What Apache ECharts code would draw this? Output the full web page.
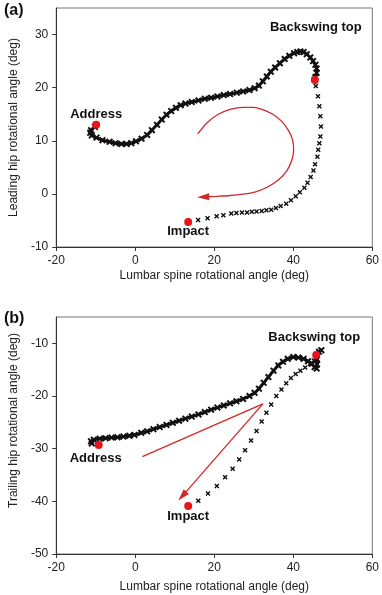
<!DOCTYPE html>
<html>
<head>
<meta charset="utf-8">
<script src="https://cdn.jsdelivr.net/npm/echarts@6/dist/echarts.min.js"></script>
<style>
  html, body { margin: 0; padding: 0; background: #fff; }
  #chart { width: 382px; height: 595px; }
</style>
</head>
<body>
<div id="chart"></div>
<script>
// x ticks shared by both panels
const xTicks = [-20, 0, 20, 40, 60];
const yTicksA = [-10, 0, 10, 20, 30];
const yTicksB = [-50, -40, -30, -20, -10];

// (a) lumbar spine vs leading hip
const backswingA = [
  [-10.2, 12.6], [-11.2, 12.0], [-11.4, 11.5], [-11.0, 11.0], [-9.8, 10.6], [-8.3, 10.1],
  [-6.5, 9.8], [-5.0, 9.55], [-3.5, 9.4], [-2.2, 9.4], [-1.0, 9.55], [0.2, 9.9],
  [1.6, 10.4], [3.0, 11.1], [4.2, 12.0], [5.5, 13.0], [6.7, 14.0], [7.9, 14.9],
  [9.1, 15.6], [10.3, 16.2], [11.5, 16.7], [12.7, 17.0], [14.3, 17.3], [16.0, 17.6],
  [17.6, 17.9], [19.2, 18.1], [20.8, 18.35], [22.4, 18.6], [24.0, 18.8], [25.7, 19.05],
  [27.3, 19.3], [28.9, 19.55], [30.2, 19.9], [31.3, 20.4], [32.3, 21.2], [33.3, 22.1],
  [34.3, 23.0], [35.4, 23.8], [36.6, 24.6], [37.8, 25.4], [39.0, 26.0], [40.2, 26.5],
  [41.0, 26.7], [41.8, 26.8], [42.6, 26.7], [43.4, 26.3], [44.3, 25.7], [45.0, 25.0],
  [45.6, 24.3], [45.9, 23.6], [45.9, 22.8], [45.6, 22.0], [45.4, 21.5]
];
const downswingA = [
  [45.7, 20.3], [46.25, 18.4], [46.6, 16.5], [46.85, 14.6], [47.0, 12.7], [46.85, 10.8],
  [46.6, 9.55], [46.3, 8.3], [46.1, 7.0], [45.5, 5.6], [45.1, 4.4], [44.4, 3.2],
  [43.6, 2.1], [42.8, 1.14], [41.65, 0.32], [40.6, -0.44], [39.4, -1.2], [38.2, -1.84],
  [36.8, -2.28], [35.6, -2.66], [34.4, -2.97], [33.2, -3.1], [32.0, -3.2], [30.7, -3.3],
  [29.5, -3.35], [28.3, -3.5], [27.0, -3.5], [25.6, -3.6], [24.3, -3.7], [22.3, -4.0],
  [20.6, -4.2], [18.3, -4.6], [15.9, -4.9]
];
const eventNames = ['Address', 'Backswing top', 'Impact'];
const eventsA = [[-9.9, 13.0], [45.45, 21.45], [13.4, -5.3]];
const arrowA = [
  [15.8, 11.3], [18.2, 13.4], [20.8, 14.9], [24.0, 15.9], [27.3, 16.3], [30.0, 16.3],
  [32.1, 15.9], [34.8, 15.0], [37.0, 13.7], [38.8, 11.9], [39.8, 10.2], [40.1, 8.3],
  [39.6, 6.3], [38.3, 4.3], [36.2, 2.6], [33.5, 1.3], [30.5, 0.4], [27.3, -0.05],
  [24.0, -0.3], [20.5, -0.45], [17.2, -0.57]
];

// (b) lumbar spine vs trailing hip
const backswingB = [
  [-11.0, -29.0], [-11.2, -28.6], [-10.5, -28.3], [-9.0, -28.1], [-7.5, -28.0], [-6.0, -27.9],
  [-4.5, -27.85], [-3.0, -27.7], [-1.5, -27.55], [-0.2, -27.4], [1.5, -27.0], [3.0, -26.7],
  [4.6, -26.3], [6.2, -25.9], [7.9, -25.5], [9.5, -25.1], [11.1, -24.7], [12.7, -24.3],
  [14.3, -23.9], [16.0, -23.5], [17.6, -23.05], [19.2, -22.6], [20.8, -22.2], [22.4, -21.8],
  [24.0, -21.4], [25.6, -21.0], [27.3, -20.55], [28.9, -20.0], [30.2, -19.4], [31.3, -18.6],
  [32.5, -17.5], [33.7, -16.4], [35.0, -15.2], [36.2, -14.2], [37.4, -13.5], [38.6, -12.95],
  [40.0, -12.6], [41.3, -12.7], [42.6, -12.95], [43.7, -13.4], [44.7, -13.9], [45.4, -14.5],
  [45.9, -14.8], [46.0, -14.0], [46.0, -13.0], [45.9, -12.2], [46.5, -11.6], [47.1, -11.3]
];
const downswingB = [
  [46.0, -12.6], [45.2, -13.2], [44.2, -13.9], [43.0, -14.6], [41.8, -15.2], [40.6, -15.8],
  [39.4, -16.6], [38.2, -17.6], [37.0, -18.75], [35.7, -20.0], [34.4, -21.6], [33.2, -23.2],
  [32.0, -24.85], [30.7, -26.65], [29.3, -28.45], [27.8, -30.3], [26.3, -32.05], [24.65, -33.8],
  [22.75, -35.45], [20.65, -37.1], [18.4, -38.5], [15.95, -39.9]
];
const eventsB = [[-9.25, -29.3], [45.8, -12.2], [13.4, -40.9]];
const arrowB1 = [[32.3, -21.5], [1.8, -31.5]];
const arrowB2 = [[32.3, -21.5], [11.9, -39.0]];

const crossSymbol = 'path://M0,2L2,0L5,3L8,0L10,2L7,5L10,8L8,10L5,7L2,10L0,8L3,5Z';
const redLine = '#d02828';
const redDot = '#e8141a';
const font = 'Liberation Sans, Arial, sans-serif';

function xAxisFor(gridIndex, gap) {
  return {
    type: 'value', gridIndex: gridIndex, min: -20, max: 60, interval: 20,
    name: 'Lumbar spine rotational angle (deg)', nameLocation: 'middle', nameGap: gap,
    nameTextStyle: { fontFamily: font, fontSize: 12, color: '#222' },
    axisLine: { onZero: false, lineStyle: { color: '#333', width: 1 } },
    axisTick: { show: true, inside: false, length: 4, customValues: xTicks, lineStyle: { color: '#333' } },
    axisLabel: { customValues: xTicks, margin: 8, fontFamily: font, fontSize: 12, color: '#222' },
    splitLine: { show: false }
  };
}
function yAxisFor(gridIndex, min, max, ticks, name, pad) {
  return {
    type: 'value', gridIndex: gridIndex, min: min, max: max, interval: 10,
    name: name, nameLocation: 'middle', nameGap: 29,
    nameTextStyle: { fontFamily: font, fontSize: 12, color: '#222', padding: pad },
    axisLine: { onZero: false, lineStyle: { color: '#333', width: 1 } },
    axisTick: { show: true, inside: false, length: 4, customValues: ticks, lineStyle: { color: '#333' } },
    axisLabel: { customValues: ticks, margin: 8, fontFamily: font, fontSize: 12, color: '#222' },
    splitLine: { show: false }
  };
}

function eventData(points, offsets) {
  return points.map((p, i) => ({
    value: p,
    name: eventNames[i],
    label: { offset: offsets[i] }
  }));
}

function panelSeries(idx, back, down, events, offsets) {
  return [
    {
      type: 'line', xAxisIndex: idx, yAxisIndex: idx, data: back, smooth: 0.4,
      showSymbol: true, symbol: crossSymbol, symbolSize: 7,
      itemStyle: { color: '#111', opacity: 1 },
      lineStyle: { color: '#111', width: 3 }, z: 3
    },
    {
      type: 'scatter', xAxisIndex: idx, yAxisIndex: idx, data: down,
      symbol: crossSymbol, symbolSize: 5, itemStyle: { color: '#111', opacity: 1 }, z: 3
    },
    {
      type: 'scatter', xAxisIndex: idx, yAxisIndex: idx, data: eventData(events, offsets),
      symbol: 'circle', symbolSize: 8, itemStyle: { color: redDot, opacity: 1 }, z: 5,
      label: {
        show: true, position: 'inside', formatter: '{b}',
        fontFamily: font, fontSize: 13, fontWeight: 'bold', color: '#111', opacity: 1,
        textBorderWidth: 0, textBorderColor: 'transparent'
      }
    }
  ];
}

const arrowA_data = arrowA.map((p, i) => i === arrowA.length - 1
  ? { value: p, symbol: 'triangle', symbolSize: [7, 12], symbolRotate: 92 }
  : { value: p, symbol: 'none' });
const arrowB2_data = arrowB2.map((p, i) => i === arrowB2.length - 1
  ? { value: p, symbol: 'triangle', symbolSize: [7, 12], symbolRotate: 138 }
  : { value: p, symbol: 'none' });

const option = {
  animation: false,
  backgroundColor: '#fff',
  grid: [
    { left: 45, top: 8, width: 330, height: 239, show: true, borderColor: '#777', borderWidth: 1, backgroundColor: 'transparent' },
    { left: 45, top: 317, width: 330, height: 237, show: true, borderColor: '#777', borderWidth: 1, backgroundColor: 'transparent' }
  ],
  xAxis: [xAxisFor(0, 23), xAxisFor(1, 27)],
  yAxis: [
    yAxisFor(0, -10, 35, yTicksA, 'Leading hip rotational angle (deg)', [0, 0, 0, 0]),
    yAxisFor(1, -50, -5, yTicksB, 'Trailing hip rotational angle (deg)', [0, 0, 0, 30])
  ],
  graphic: [
    { type: 'text', left: 4, top: 3, style: { text: '(a)', font: 'bold 16px ' + font, fill: '#111' } },
    { type: 'text', left: 4, top: 311, style: { text: '(b)', font: 'bold 16px ' + font, fill: '#111' } }
  ],
  series: [
    {
      type: 'line', xAxisIndex: 0, yAxisIndex: 0, data: arrowA_data, smooth: 0.3,
      showSymbol: true, itemStyle: { color: redLine }, lineStyle: { color: redLine, width: 1.3 }, z: 2
    },
    {
      type: 'line', xAxisIndex: 1, yAxisIndex: 1, data: arrowB1, showSymbol: false,
      lineStyle: { color: redLine, width: 1.3 }, z: 2
    },
    {
      type: 'line', xAxisIndex: 1, yAxisIndex: 1, data: arrowB2_data, showSymbol: true,
      itemStyle: { color: redLine }, lineStyle: { color: redLine, width: 1.3 }, z: 2
    },
    ...panelSeries(0, backswingA, downswingA, eventsA, [[0, -10], [1, -52.5], [0, 9.5]]),
    ...panelSeries(1, backswingB, downswingB, eventsB, [[-3, 13], [-2, -17.5], [0, 10]])
  ]
};

const chart = echarts.init(document.getElementById('chart'));
chart.setOption(option);
</script>
</body>
</html>
